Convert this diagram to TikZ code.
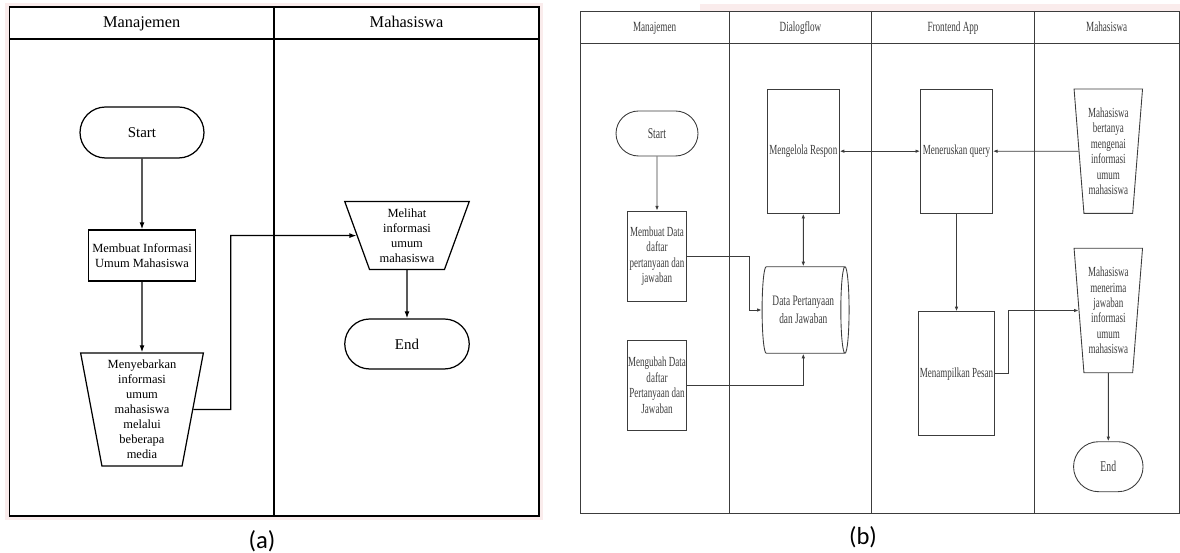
\documentclass[tikz,border=0pt]{standalone}
\usepackage{fontspec}
\setmainfont{Liberation Serif}
\newfontfamily\narrowfont[FakeStretch=0.65]{Liberation Serif}
\newfontfamily\labelfont{Carlito}
\usetikzlibrary{arrows.meta}
\usetikzlibrary{shapes.geometric}
\usetikzlibrary{shapes.misc}
\definecolor{halo}{RGB}{250,236,236}
\definecolor{lineb}{RGB}{60,60,60}
\tikzset{term/.style = {draw, rounded rectangle, inner sep = 0}}
\tikzset{proc/.style = {draw, rectangle, inner sep = 0, align = center}}
\tikzset{manual/.style = {draw, trapezium, shape border rotate = 180, trapezium stretches = true, inner sep = 0, align = center}}
\tikzset{store/.style = {draw, cylinder, aspect = 0.3, inner sep = 0, align = center}}
\tikzset{arr/.style = {-{Latex[length = 4pt, width = 2.8pt]}}}
\tikzset{arrs/.style = {-{Latex[length = 2.6pt, width = 2pt]}}}
\tikzset{arrss/.style = {{Latex[length = 2.6pt, width = 2pt]}-{Latex[length = 2.6pt, width = 2pt]}}}
\tikzset{lanea/.style = {anchor = base, font = \fontsize{9.3}{11}\selectfont}}
\tikzset{laneb/.style = {anchor = base, font = \narrowfont\fontsize{8}{9}\selectfont}}
\begin{document}
\begin{tikzpicture}[x = 0.02cm, y = -0.02cm]
  \useasboundingbox (0, 0) rectangle (1180, 553);
  \fill [halo] (5, 3) rectangle (543, 520);
  \fill [halo] (700, 4) rectangle (1180, 11);

  \begin{scope}[line width = 0.7pt, nodes = {font = \fontsize{7.1}{8.5}\selectfont}]
    \draw [fill = white] (9.5, 7) rectangle (539, 516);
    \draw (9.5, 39) -- (539, 39);
    \draw (274, 7) -- (274, 516);
    \node [lanea] (hmanA) at (141.75, 27.5) {Manajemen};
    \node [lanea] (hmhsA) at (406.5, 27.5) {Mahasiswa};

    \node [term, minimum width = 2.48cm, minimum height = 1.02cm, font = \fontsize{8.5}{10}\selectfont] (startA) at (142, 132.5) {Start};
    \node [proc, minimum width = 2.14cm, minimum height = 1.02cm] (buatA) at (142, 255.5) {Membuat Informasi\\Umum Mahasiswa};
    \node [manual, trapezium angle = 79.5, minimum width = 2.46cm, minimum height = 2.26cm] (sebarA) at (142, 409.5) {Menyebarkan\\informasi\\umum\\mahasiswa\\melalui\\beberapa\\media};
    \node [manual, trapezium angle = 71.3, minimum width = 2.49cm, minimum height = 1.36cm] (lihatA) at (407, 235.6) {Melihat\\informasi\\umum\\mahasiswa};
    \node [term, minimum width = 2.49cm, minimum height = 1.0cm, font = \fontsize{8.5}{10}\selectfont] (endA) at (407, 344) {End};

    \draw [arr] (startA) -- (buatA);
    \draw [arr] (buatA) -- (sebarA);
    \draw [arr] (sebarA.east) -- (230.8, 409.5) |- (lihatA.west);
    \draw [arr] (lihatA) -- (endA);
  \end{scope}

  \begin{scope}[line width = 0.5pt, color = lineb, nodes = {font = \narrowfont\fontsize{7.9}{8.8}\selectfont}]
    \draw (580, 11) rectangle (1179, 513.3);
    \draw (580, 43.3) -- (1179, 43.3);
    \draw (729.3, 11) -- (729.3, 513.3);
    \draw (871.7, 11) -- (871.7, 513.3);
    \draw (1034.3, 11) -- (1034.3, 513.3);
    \node [laneb] (hmanB) at (654.6, 31.5) {Manajemen};
    \node [laneb] (hdlgB) at (800.5, 31.5) {Dialogflow};
    \node [laneb] (hfrnB) at (953, 31.5) {Frontend App};
    \node [laneb] (hmhsB) at (1106.7, 31.5) {Mahasiswa};

    \node [term, minimum width = 1.64cm, minimum height = 0.9cm, font = \narrowfont\fontsize{8.5}{10}\selectfont] (startB) at (657, 133.5) {Start};
    \node [proc, minimum width = 1.19cm, minimum height = 1.8cm] (buatB) at (657, 256) {Membuat Data\\daftar\\pertanyaan dan\\jawaban};
    \node [proc, minimum width = 1.19cm, minimum height = 1.79cm] (ubahB) at (657, 385.4) {Mengubah Data\\daftar\\Pertanyaan dan\\Jawaban};
    \node [proc, minimum width = 1.44cm, minimum height = 2.49cm] (kelolaB) at (803.3, 151.2) {Mengelola Respon};
    \node [store, minimum width = 1.73cm, minimum height = 1.74cm, font = \narrowfont\fontsize{8.2}{10.2}\selectfont] (dataB) at (803.3, 310) {Data Pertanyaan\\dan Jawaban};
    \node [proc, minimum width = 1.44cm, minimum height = 2.49cm] (terusB) at (956.5, 151.2) {Meneruskan query};
    \node [manual, trapezium angle = 84.6, minimum width = 1.374cm, minimum height = 2.49cm] (tanyaB) at (1108.3, 151.2) {Mahasiswa\\bertanya\\mengenai\\informasi\\umum\\mahasiswa};
    \node [proc, minimum width = 1.514cm, minimum height = 2.48cm] (tampilB) at (956.5, 373.7) {Menampilkan Pesan};
    \node [manual, trapezium angle = 84.6, minimum width = 1.374cm, minimum height = 2.49cm] (terimaB) at (1108.3, 310.5) {Mahasiswa\\menerima\\jawaban\\informasi\\umum\\mahasiswa};
    \node [term, minimum width = 1.39cm, minimum height = 1.0cm, font = \narrowfont\fontsize{8.5}{10}\selectfont] (endB) at (1108.3, 466.7) {End};

    \draw [arrs] (startB) -- (buatB);
    \draw [arrs] (buatB.east) -- (749.3, 256) |- (dataB.west);
    \draw [arrs] (ubahB.east) -| (dataB.south);
    \draw [arrss] (kelolaB) -- (dataB);
    \draw [arrss] (kelolaB) -- (terusB);
    \draw [arrs] (tanyaB) -- (terusB);
    \draw [arrs] (terusB) -- (tampilB);
    \draw [arrs] (tampilB.east) -- (1008.3, 373.7) |- (terimaB.west);
    \draw [arrs] (terimaB) -- (endB);
  \end{scope}

  \node [font = \labelfont\fontsize{14}{16}\selectfont] (capA) at (262, 541) {(a)};
  \node [font = \labelfont\fontsize{14}{16}\selectfont] (capB) at (863, 537) {(b)};
\end{tikzpicture}
\end{document}
